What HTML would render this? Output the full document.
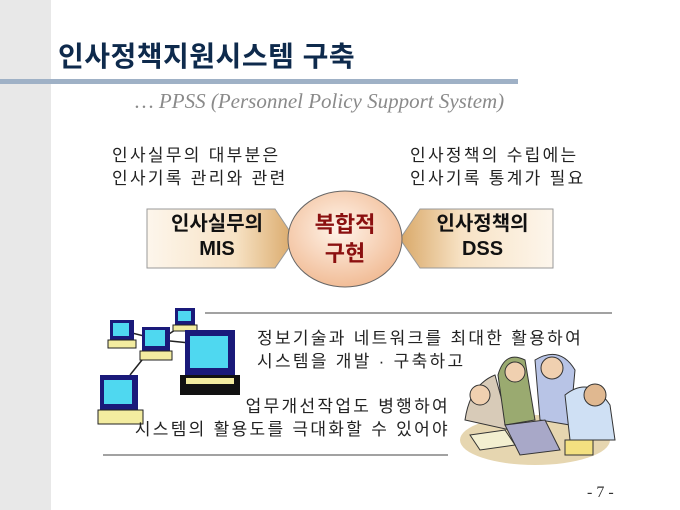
<!DOCTYPE html>
<html><head><meta charset="utf-8"><style>
body{margin:0;width:680px;height:510px;position:relative;background:#fff;overflow:hidden;font-family:"Liberation Sans","Noto Sans CJK KR",sans-serif}
.a{position:absolute;white-space:nowrap}
.t{font-size:17px;color:#222;line-height:23px;letter-spacing:2.3px}
</style></head><body>
<div class="a" style="left:0;top:0;width:51px;height:510px;background:#e8e8e8"></div>
<div class="a" style="left:0;top:79px;width:518px;height:5px;background:#9fb1c6"></div>
<div class="a" style="left:58px;top:35px;font-size:28px;font-weight:bold;color:#0e2a4c;letter-spacing:0.5px">인사정책지원시스템 구축</div>
<div class="a" style="left:135px;top:89px;font-family:'Liberation Serif',serif;font-style:italic;font-size:21px;color:#8a8a8a">… PPSS (Personnel Policy Support System)</div>
<div class="a t" style="left:112px;top:144px">인사실무의 대부분은<br>인사기록 관리와 관련</div>
<div class="a t" style="left:410px;top:144px">인사정책의 수립에는<br>인사기록 통계가 필요</div>
<svg class="a" style="left:0;top:0" width="680" height="510">
<defs>
<linearGradient id="gl" x1="0" x2="1"><stop offset="0" stop-color="#fdf6ec"/><stop offset="0.6" stop-color="#f7e2c4"/><stop offset="1" stop-color="#d9a868"/></linearGradient>
<linearGradient id="gr" x1="1" x2="0"><stop offset="0" stop-color="#fdf6ec"/><stop offset="0.6" stop-color="#f7e2c4"/><stop offset="1" stop-color="#d9a868"/></linearGradient>
<radialGradient id="gc" cx="0.45" cy="0.4" r="0.65"><stop offset="0" stop-color="#fff4ea"/><stop offset="1" stop-color="#f0b890"/></radialGradient>
</defs>
<path d="M147 209 H275 L295 239 L275 268 H147 Z" fill="url(#gl)" stroke="#999" stroke-width="1"/>
<path d="M553 209 H420 L400 239 L420 268 H553 Z" fill="url(#gr)" stroke="#999" stroke-width="1"/>
<ellipse cx="345" cy="239" rx="57" ry="48" fill="url(#gc)" stroke="#666" stroke-width="1"/>
<line x1="205" y1="313" x2="612" y2="313" stroke="#444"/>
<line x1="103" y1="455" x2="448" y2="455" stroke="#444"/>
<g stroke="#222" stroke-width="1.5">
<line x1="120" y1="330" x2="160" y2="340"/><line x1="160" y1="340" x2="190" y2="320"/><line x1="160" y1="340" x2="210" y2="345"/><line x1="150" y1="350" x2="130" y2="375"/>
</g>
<g>
<rect x="110" y="320" width="24" height="20" fill="#1a1a7a"/><rect x="113" y="323" width="16" height="13" fill="#4fd8f0"/><rect x="108" y="340" width="28" height="8" fill="#f3eca0" stroke="#222"/>
<rect x="175" y="308" width="20" height="17" fill="#1a1a7a"/><rect x="178" y="311" width="13" height="10" fill="#4fd8f0"/><rect x="173" y="325" width="24" height="6" fill="#f3eca0" stroke="#222"/>
<rect x="142" y="327" width="28" height="24" fill="#1a1a7a"/><rect x="145" y="330" width="20" height="16" fill="#4fd8f0"/><rect x="140" y="351" width="32" height="9" fill="#f3eca0" stroke="#222"/>
<rect x="185" y="330" width="50" height="45" fill="#1a1a7a"/><rect x="190" y="336" width="38" height="32" fill="#4fd8f0"/><rect x="180" y="375" width="60" height="20" fill="#111"/><rect x="186" y="378" width="48" height="6" fill="#f3eca0"/>
<rect x="100" y="375" width="38" height="35" fill="#1a1a7a"/><rect x="104" y="380" width="28" height="24" fill="#4fd8f0"/><rect x="98" y="410" width="45" height="14" fill="#f3eca0" stroke="#222"/>
</g>
<g>
<ellipse cx="535" cy="440" rx="75" ry="25" fill="#e6d6b0"/>
<path d="M465 420 Q470 385 495 375 L510 430 Z" fill="#d8cbb8" stroke="#333"/>
<path d="M498 375 Q505 350 525 360 L535 420 L505 425 Z" fill="#9aaa70" stroke="#333"/>
<path d="M535 360 Q560 345 575 370 L570 425 L540 420 Z" fill="#b8c4e6" stroke="#333"/>
<path d="M565 395 Q590 375 610 405 L615 440 L570 440 Z" fill="#cfe0f4" stroke="#333"/>
<circle cx="480" cy="395" r="10" fill="#f0d0b0" stroke="#333"/><circle cx="515" cy="372" r="10" fill="#f0d0b0" stroke="#333"/><circle cx="552" cy="368" r="11" fill="#f0d0b0" stroke="#333"/><circle cx="595" cy="395" r="11" fill="#e0b890" stroke="#333"/>
<path d="M505 425 L545 420 L560 450 L520 455 Z" fill="#a8a8c8" stroke="#333"/>
<rect x="565" y="440" width="28" height="15" fill="#f3e080" stroke="#333"/>
<path d="M470 435 L505 430 L515 445 L480 450 Z" fill="#f3efd0" stroke="#333"/>
</g>
</svg>
<div class="a" style="left:147px;top:212px;width:140px;text-align:center;font-size:20px;font-weight:bold;line-height:25px;color:#111">인사실무의<br>MIS</div>
<div class="a" style="left:410px;top:212px;width:145px;text-align:center;font-size:20px;font-weight:bold;line-height:25px;color:#111">인사정책의<br>DSS</div>
<div class="a" style="left:290px;top:210px;width:110px;text-align:center;font-size:22px;font-weight:bold;line-height:29px;color:#8b1010">복합적<br>구현</div>
<div class="a t" style="left:257px;top:327px">정보기술과 네트워크를 최대한 활용하여<br>시스템을 개발 · 구축하고</div>
<div class="a t" style="left:100px;top:395px;width:350px;text-align:right">업무개선작업도 병행하여<br>시스템의 활용도를 극대화할 수 있어야</div>
<div class="a" style="left:587px;top:484px;font-family:'Liberation Serif',serif;font-size:16px;color:#333">- 7 -</div>
</body></html>
